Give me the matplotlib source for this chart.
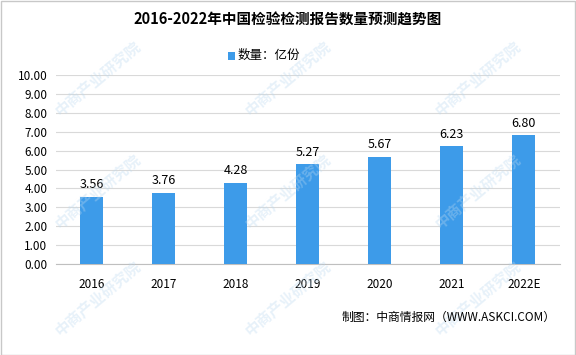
import matplotlib
matplotlib.use("Agg")
import matplotlib.pyplot as plt
from matplotlib.patches import Rectangle

plt.rcParams["font.family"] = ["Noto Sans CJK SC", "DejaVu Sans"]

# data
years = ["2016", "2017", "2018", "2019", "2020", "2021", "2022E"]
reports = [3.56, 3.76, 4.28, 5.27, 5.67, 6.23, 6.80]
y_ticks = [0, 1, 2, 3, 4, 5, 6, 7, 8, 9, 10]

BAR_COLOR = "#3d9be9"
GRID_COLOR = "#d9d9d9"

fig = plt.figure(figsize=(5.76, 3.55), dpi=100)
fig.patch.set_facecolor("white")
fig.patches.append(Rectangle((0.001, 0.001), 0.997, 0.997, transform=fig.transFigure,
                             fill=False, edgecolor="#c8c8c8", linewidth=1.0))

# faint watermark
for wx, wy in [(0.17, 0.78), (0.5, 0.78), (0.83, 0.78), (0.17, 0.46), (0.5, 0.46),
               (0.83, 0.46), (0.17, 0.16), (0.5, 0.16), (0.83, 0.16)]:
    fig.text(wx, wy, "中商产业研究院", rotation=40, fontsize=11, color="#bcd9f0",
             alpha=0.35, ha="center", va="center", fontweight="bold", zorder=0)

ax = fig.add_axes([0.097, 0.256, 0.875, 0.533])
ax.set_facecolor("none")
x = list(range(len(years)))
ax.bar(x, reports, width=0.32, color=BAR_COLOR, zorder=3)
for xi, v in zip(x, reports):
    ax.text(xi, v + 0.3, f"{v:.2f}", ha="center", va="bottom", fontsize=9)

ax.set_ylim(0, 10)
ax.set_xlim(-0.5, len(years) - 0.5)
ax.set_yticks(y_ticks)
ax.set_yticklabels([f"{t:.2f}" for t in y_ticks], fontsize=8.5)
ax.set_xticks(x)
ax.set_xticklabels(years, fontsize=8.5)
ax.tick_params(axis="both", length=0, pad=6)
ax.tick_params(axis="x", pad=10)
ax.grid(axis="y", color=GRID_COLOR, linewidth=0.8, zorder=0)
for side in ("top", "right", "left"):
    ax.spines[side].set_visible(False)
ax.spines["bottom"].set_color("#bfbfbf")

fig.text(0.5, 0.945, "2016-2022年中国检验检测报告数量预测趋势图", ha="center", va="center",
         fontsize=10.5, fontweight="bold")

# legend
fig.patches.append(Rectangle((0.395, 0.832), 0.0125, 0.022, transform=fig.transFigure,
                             facecolor=BAR_COLOR, edgecolor="none"))
fig.text(0.412, 0.843, "数量：亿份", ha="left", va="center", fontsize=9)

fig.text(0.965, 0.105, "制图：中商情报网（WWW.ASKCI.COM）", ha="right", va="center", fontsize=8.5)

fig.savefig("out.png", dpi=100)
